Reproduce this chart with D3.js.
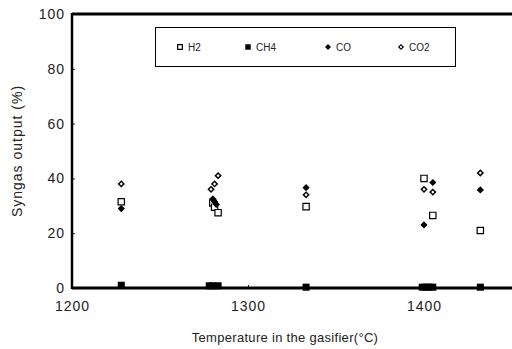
<!DOCTYPE html>
<html>
<head>
<meta charset="utf-8">
<script src="https://cdn.jsdelivr.net/npm/d3@7"></script>
<style>
  body { margin: 0; background: #fff; }
  text { font-family: "Liberation Sans", Arial, sans-serif; fill: #222; }
</style>
</head>
<body>
<div id="chart"></div>
<script>
// Data
var h2Temp = [1228, 1280, 1281, 1283, 1333, 1400, 1405, 1432];
var h2Val  = [31.5, 31, 29.5, 27.5, 29.7, 40, 26.5, 21];
var ch4Temp = [1228, 1278, 1280, 1283, 1333, 1399, 1401, 1403, 1405, 1432];
var ch4Val  = [1.0, 0.8, 0.8, 0.8, 0.3, 0.3, 0.3, 0.3, 0.3, 0.3];
var coTemp = [1228, 1280, 1281, 1282, 1333, 1405, 1400, 1432];
var coVal  = [29, 32.5, 31.5, 30.5, 36.6, 38.5, 23, 35.8];
var co2Temp = [1228, 1283, 1281, 1279, 1333, 1400, 1405, 1432];
var co2Val  = [38, 41, 38, 36, 34, 36, 35, 42];
var seriesNames = ["H2", "CH4", "CO", "CO2"];
var xTicks = [1200, 1300, 1400];
var yTicks = [0, 20, 40, 60, 80, 100];

var width = 512, height = 349;
var margin = {top: 14, right: 0, bottom: 61, left: 72};

var svg = d3.select("#chart").append("svg")
  .attr("width", width)
  .attr("height", height);

var xScale = d3.scaleLinear().domain([1200, 1450]).range([margin.left, width - margin.right]);
var yScale = d3.scaleLinear().domain([0, 100]).range([height - margin.bottom, margin.top]);

// axes
var xAxis = svg.append("g")
  .attr("transform", "translate(0," + yScale(0) + ")")
  .call(d3.axisBottom(xScale).tickValues(xTicks).tickSize(-3).tickPadding(13).tickFormat(d3.format("d")));
var yAxis = svg.append("g")
  .attr("transform", "translate(" + xScale(1200) + ",0)")
  .call(d3.axisLeft(yScale).tickValues(yTicks).tickSize(-3).tickPadding(7));
[xAxis, yAxis].forEach(function(a) {
  a.select(".domain").remove();
  a.selectAll("line").attr("stroke", "#222");
  a.selectAll("text").style("font-size", "14px").style("letter-spacing", "1px").attr("fill", "#222");
});

// frame lines
svg.append("line")
  .attr("x1", xScale(1200)).attr("x2", width)
  .attr("y1", yScale(100)).attr("y2", yScale(100))
  .attr("stroke", "#000").attr("stroke-width", 3);
svg.append("line")
  .attr("x1", xScale(1200)).attr("x2", xScale(1200))
  .attr("y1", yScale(100) - 1).attr("y2", yScale(0) + 1)
  .attr("stroke", "#000").attr("stroke-width", 2.5);
svg.append("line")
  .attr("x1", xScale(1200)).attr("x2", width)
  .attr("y1", yScale(0)).attr("y2", yScale(0))
  .attr("stroke", "#000").attr("stroke-width", 3);

// axis titles
svg.append("text")
  .attr("transform", "translate(22," + yScale(50) + ") rotate(-90)")
  .attr("text-anchor", "middle")
  .style("font-size", "14px")
  .style("letter-spacing", "1px")
  .text("Syngas output (%)");
svg.append("text")
  .attr("x", 285).attr("y", 342)
  .attr("text-anchor", "middle")
  .style("font-size", "13px")
  .style("letter-spacing", "0.3px")
  .text("Temperature in the gasifier(\u00B0C)");

// markers
function pairs(t, v) { return t.map(function(d, i) { return [d, v[i]]; }); }
var sq = d3.symbol().type(d3.symbolSquare);
function pos(d) { return "translate(" + xScale(d[0]) + "," + yScale(d[1]) + ")"; }

var plot = svg.append("g");
plot.selectAll(".h2").data(pairs(h2Temp, h2Val)).enter().append("path")
  .attr("d", sq.size(40)())
  .attr("transform", pos)
  .attr("fill", "#fff").attr("stroke", "#000").attr("stroke-width", 1.2);
plot.selectAll(".ch4").data(pairs(ch4Temp, ch4Val)).enter().append("path")
  .attr("d", sq.size(50)())
  .attr("transform", pos)
  .attr("fill", "#000");
plot.selectAll(".co").data(pairs(coTemp, coVal)).enter().append("path")
  .attr("d", sq.size(26)())
  .attr("transform", function(d) { return pos(d) + " rotate(45)"; })
  .attr("fill", "#000");
plot.selectAll(".co2").data(pairs(co2Temp, co2Val)).enter().append("path")
  .attr("d", sq.size(14)())
  .attr("transform", function(d) { return pos(d) + " rotate(45)"; })
  .attr("fill", "#fff").attr("stroke", "#000").attr("stroke-width", 1.5);

// legend
var legend = svg.append("g");
legend.append("rect")
  .attr("x", 155.5).attr("y", 27.5).attr("width", 300).attr("height", 39)
  .attr("fill", "#fff").attr("stroke", "#000").attr("stroke-width", 1);
var legX = [180, 248, 328, 401];
var legSym = [sq.size(22)(), sq.size(30)(), sq.size(18)(), sq.size(10)()];
var legRot = [0, 0, 45, 45];
var legFill = ["#fff", "#000", "#000", "#fff"];
seriesNames.forEach(function(name, i) {
  legend.append("path")
    .attr("d", legSym[i])
    .attr("transform", "translate(" + legX[i] + ",47) rotate(" + legRot[i] + ")")
    .attr("fill", legFill[i])
    .attr("stroke", legFill[i] === "#fff" ? "#000" : "none")
    .attr("stroke-width", 1.2);
  legend.append("text")
    .attr("x", legX[i] + 8).attr("y", 51)
    .style("font-size", "10px")
    .text(name);
});
</script>
</body>
</html>
